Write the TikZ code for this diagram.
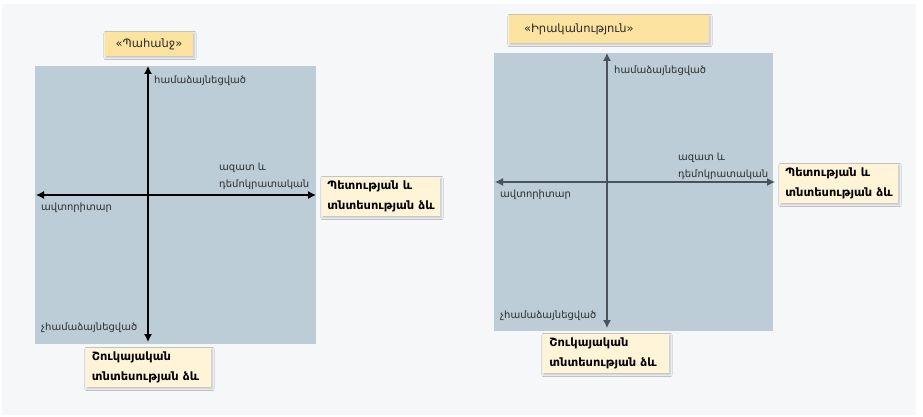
\documentclass[tikz,border=0pt]{standalone}
\usepackage{fontspec}
\setmainfont{DejaVu Sans}
\usetikzlibrary{arrows.meta,shadows.blur}
\definecolor{pagebg}{HTML}{F6F7F9}
\definecolor{panelbg}{HTML}{BCCDD8}
\definecolor{titlebg}{HTML}{FDE3A0}
\definecolor{boxbg}{HTML}{FFF4D8}
\definecolor{txt}{HTML}{2B2B2B}
\definecolor{axisdark}{HTML}{4A525C}
\tikzset{
  panel/.style={fill=panelbg, draw=none, inner sep=0pt},
  lbl/.style={anchor=west, inner sep=0pt, font=\fontsize{10}{17}\selectfont, text=txt, align=left},
  titlebox/.style={fill=titlebg, draw=none, font=\fontsize{11.5}{13}\selectfont, text=txt,
     blur shadow={shadow xshift=1pt, shadow yshift=-1.5pt, shadow blur steps=4, shadow opacity=25}},
  infobox/.style={fill=boxbg, draw=none, font=\bfseries\fontsize{11.5}{20}\selectfont, text=black,
     align=left, inner sep=1pt, minimum height=39pt,
     blur shadow={shadow xshift=1pt, shadow yshift=-1.5pt, shadow blur steps=4, shadow opacity=25}},
  axis/.style={line width=1.2pt, {Latex[length=8pt,width=8pt]}-{Latex[length=8pt,width=8pt]}},
}
\begin{document}
\begin{tikzpicture}[x=1pt,y=-1pt]
\useasboundingbox (0,0) rectangle (923,417);
\fill[white] (0,0) rectangle (923,417);
\fill[pagebg] (2,4) rectangle (916,415);

% ---------- left diagram ----------
\node[panel, minimum width=281pt, minimum height=278pt] (pL) at (175.5,205) {};
\node[titlebox, minimum width=88pt, minimum height=24pt] (tL) at (149,44) {«Պահանջ»};
\coordinate (lTop) at (148,66);
\coordinate (lBot) at (148,342);
\coordinate (lLeft) at (36,195);
\coordinate (lRight) at (316,195);
\draw[axis, black] (lTop) -- (lBot);
\draw[axis, black] (lLeft) -- (lRight);
\node[lbl] (lA) at (154,81) {համաձայնեցված};
\node[lbl] (lB) at (219,176.5) {ազատ և\\դեմոկրատական};
\node[lbl] (lC) at (41,208) {ավտորիտար};
\node[lbl] (lD) at (41,328) {չհամաձայնեցված};
\node[infobox, minimum width=118pt] (sL) at (381,196.5)
  {Պետության և\\տնտեսության ձև};
\node[infobox, minimum width=125pt] (mL) at (148.5,367.5)
  {Շուկայական\\տնտեսության ձև\hspace*{6pt}};

% ---------- right diagram ----------
\node[panel, minimum width=279pt, minimum height=278pt] (pR) at (633.5,192) {};
\node[titlebox, minimum width=200pt, minimum height=28pt, text width=170pt, inner xsep=15pt, align=left] (tR) at (609,29) {«Իրականություն»};
\coordinate (rTop) at (607,53);
\coordinate (rBot) at (607,328);
\coordinate (rLeft) at (495,182);
\coordinate (rRight) at (775,182);
\draw[axis, axisdark] (rTop) -- (rBot);
\draw[axis, axisdark] (rLeft) -- (rRight);
\node[lbl] (rA) at (614,71) {համաձայնեցված};
\node[lbl] (rB) at (678,166) {ազատ և\\դեմոկրատական};
\node[lbl] (rC) at (500,195) {ավտորիտար};
\node[lbl] (rD) at (500,316) {չհամաձայնեցված};
\node[infobox, minimum width=118pt] (sR) at (839,183.5)
  {Պետության և\\տնտեսության ձև};
\node[infobox, minimum width=126pt] (mR) at (606,353.5)
  {Շուկայական\\տնտեսության ձև\hspace*{6pt}};
\end{tikzpicture}
\end{document}
